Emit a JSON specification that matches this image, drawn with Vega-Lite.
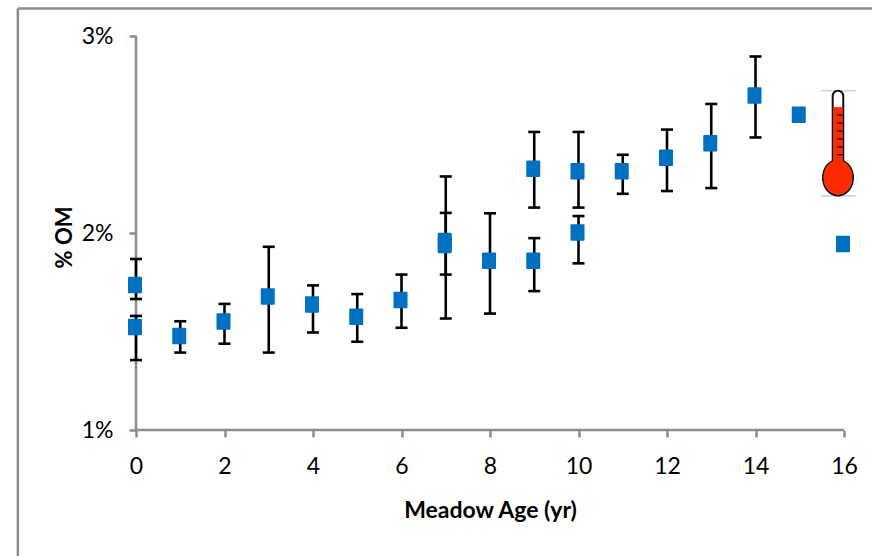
{
"$schema":"https://vega.github.io/schema/vega-lite/v6.json",
"width":708,"height":394,
"autosize":"none",
"padding":{"left":136,"top":36,"right":28,"bottom":126},
"background":"white",
"config":{"view":{"stroke":null}},
"datasets":{
"obs":[
{"age":0,"om":1.736,"lo":1.665,"hi":1.868},
{"age":0,"om":1.523,"lo":1.355,"hi":1.579},
{"age":1,"om":1.477,"lo":1.393,"hi":1.552},
{"age":2,"om":1.551,"lo":1.438,"hi":1.64},
{"age":3,"om":1.678,"lo":1.393,"hi":1.93},
{"age":4,"om":1.637,"lo":1.495,"hi":1.734},
{"age":5,"om":1.575,"lo":1.448,"hi":1.69},
{"age":6,"om":1.66,"lo":1.519,"hi":1.789},
{"age":7,"om":1.959,"lo":1.789,"hi":2.102},
{"age":7,"om":1.939,"lo":1.566,"hi":2.287},
{"age":8,"om":1.859,"lo":1.591,"hi":2.1},
{"age":9,"om":2.326,"lo":2.129,"hi":2.513},
{"age":9,"om":1.859,"lo":1.705,"hi":1.974},
{"age":10,"om":2.313,"lo":2.129,"hi":2.513},
{"age":10,"om":2.003,"lo":1.846,"hi":2.086},
{"age":11,"om":2.313,"lo":2.199,"hi":2.397},
{"age":12,"om":2.382,"lo":2.213,"hi":2.525},
{"age":13,"om":2.456,"lo":2.228,"hi":2.655},
{"age":14,"om":2.698,"lo":2.485,"hi":2.896},
{"age":15,"om":2.6},
{"age":16,"om":1.944}
],
"frame":[
{"x":-2.67,"x2":17,"y":3.14,"y2":3.14},
{"x":-2.67,"x2":-2.67,"y":3.14,"y2":0.3}
],
"axisLines":[
{"x":0,"x2":16,"y":1,"y2":1},
{"x":0,"x2":0,"y":1,"y2":3}
],
"gauge":[{"x":15.864,"y":2.454}],
"gaugeEnds":[
{"x":15.47,"x2":16.26,"y":2.722},
{"x":15.47,"x2":16.26,"y":2.188}
]
},
"encoding":{
"x":{"type":"quantitative","scale":{"domain":[0,16],"nice":false,"zero":false}},
"y":{"type":"quantitative","scale":{"domain":[1,3],"nice":false,"zero":false}}
},
"layer":[
{"data":{"name":"frame"},
 "mark":{"type":"rule","color":"#8c8c8c","strokeWidth":2.5,"clip":false},
 "encoding":{"x":{"field":"x","type":"quantitative","axis":{"values":[0,2,4,6,8,10,12,14,16],"format":"d","domain":false,"grid":false,"tickColor":"#8c8c8c","tickWidth":2.5,"tickSize":7,"labelFlush":false,"labelFont":"Lato","labelFontSize":23,"labelColor":"#000","labelPadding":18,"title":"Meadow Age (yr)","titleFont":"Lato","titleFontSize":23,"titleFontWeight":"bold","titleColor":"#000","titleX":354,"titleY":87,"titleBaseline":"alphabetic"}},
  "x2":{"field":"x2"},
  "y":{"field":"y","type":"quantitative","axis":{"values":[1,2,3],"labelExpr":"datum.value + '%'","domain":false,"grid":false,"tickColor":"#8c8c8c","tickWidth":2.5,"tickSize":7,"labelFlush":false,"labelFont":"Lato","labelFontSize":23,"labelColor":"#000","labelPadding":16,"title":"% OM","titleFont":"Lato","titleFontSize":22,"titleFontWeight":"bold","titleColor":"#000","titleX":-65,"titleY":201,"titleBaseline":"alphabetic"}},
  "y2":{"field":"y2"}}},
{"data":{"name":"axisLines"},
 "mark":{"type":"rule","color":"#8c8c8c","strokeWidth":2.5},
 "encoding":{"x":{"field":"x","type":"quantitative"},"x2":{"field":"x2"},"y":{"field":"y","type":"quantitative"},"y2":{"field":"y2"}}},
{"data":{"name":"obs"},
 "transform":[{"filter":"isValid(datum.lo)"}],
 "mark":{"type":"rule","color":"#000","strokeWidth":2.6},
 "encoding":{"x":{"field":"age","type":"quantitative"},"y":{"field":"lo","type":"quantitative"},"y2":{"field":"hi"}}},
{"data":{"name":"obs"},
 "transform":[{"filter":"isValid(datum.lo)"}],
 "mark":{"type":"tick","orient":"horizontal","color":"#000","size":12,"thickness":2.6,"opacity":1},
 "encoding":{"x":{"field":"age","type":"quantitative"},"y":{"field":"lo","type":"quantitative"}}},
{"data":{"name":"obs"},
 "transform":[{"filter":"isValid(datum.hi)"}],
 "mark":{"type":"tick","orient":"horizontal","color":"#000","size":12,"thickness":2.6,"opacity":1},
 "encoding":{"x":{"field":"age","type":"quantitative"},"y":{"field":"hi","type":"quantitative"}}},
{"data":{"name":"obs"},
 "mark":{"type":"point","filled":true,"shape":"M-0.75,-1L0.75,-1Q0.85,-1 0.85,-0.88L0.85,0.88Q0.85,1 0.75,1L-0.75,1Q-0.85,1 -0.85,0.88L-0.85,-0.88Q-0.85,-1 -0.75,-1Z","size":272,"color":"#0070C0","opacity":1,"xOffset":-1,"clip":false},
 "encoding":{"x":{"field":"age","type":"quantitative"},"y":{"field":"om","type":"quantitative"}}},
{"data":{"name":"gaugeEnds"},
 "mark":{"type":"rule","color":"#bdbdbd","strokeWidth":1.2},
 "encoding":{"x":{"field":"x","type":"quantitative"},"x2":{"field":"x2"},"y":{"field":"y","type":"quantitative"}}},
{"data":{"name":"gauge"},
 "mark":{"type":"point","filled":true,"shape":"M-0.096,0.32L-0.096,-0.864A0.096,0.096 0 0 1 0.096,-0.864L0.096,0.32A0.273,0.322 0 1 1 -0.096,0.32Z","size":12100,"fill":"#ffffff","stroke":"#111111","strokeWidth":2,"opacity":1,"fillOpacity":1},
 "encoding":{"x":{"field":"x","type":"quantitative"},"y":{"field":"y","type":"quantitative"}}},
{"data":{"name":"gauge"},
 "mark":{"type":"point","filled":true,"shape":"M-0.08,0.32L-0.08,-0.658L0.08,-0.658L0.08,0.32A0.26,0.31 0 1 1 -0.08,0.32Z","size":12100,"fill":"#FF2A00","stroke":"#FF2A00","strokeWidth":0.5,"opacity":1,"fillOpacity":1},
 "encoding":{"x":{"field":"x","type":"quantitative"},"y":{"field":"y","type":"quantitative"}}},
{"data":{"name":"gauge"},
 "mark":{"type":"point","filled":false,"shape":"M-0.02,-0.518L0.087,-0.518M-0.02,-0.373L0.087,-0.373M-0.02,-0.227L0.087,-0.227M-0.02,-0.087L0.087,-0.087M-0.02,0.06L0.087,0.06M-0.02,0.2L0.087,0.2","size":12100,"stroke":"#2a0500","strokeWidth":1.3,"opacity":1},
 "encoding":{"x":{"field":"x","type":"quantitative"},"y":{"field":"y","type":"quantitative"}}}
]
}
